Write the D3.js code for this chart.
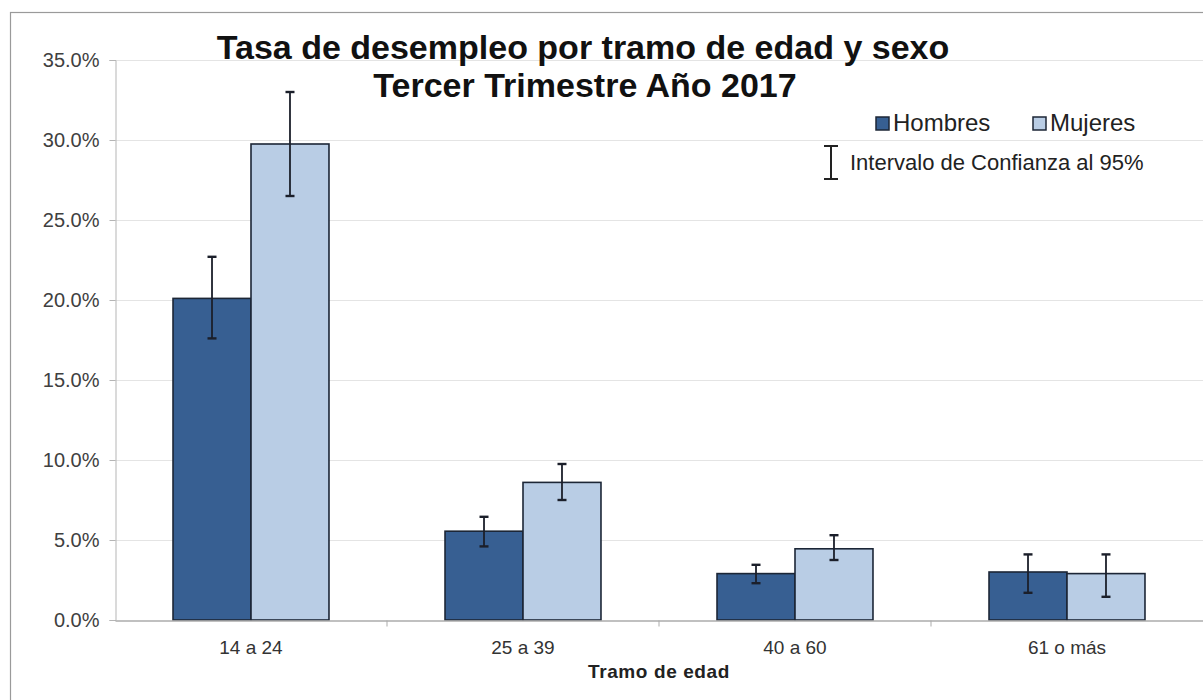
<!DOCTYPE html>
<html lang="es">
<head>
<meta charset="UTF-8">
<title>Tasa de desempleo por tramo de edad y sexo</title>
<style>
  body { margin: 0; background: #fff; }
  text { font-family: "Liberation Sans", Arial, sans-serif; }
</style>
</head>
<body>
<svg width="1203" height="700"></svg>
<script src="https://d3js.org/d3.v7.min.js"></script>
<script>
// data (percent)
var categories = ["14 a 24", "25 a 39", "40 a 60", "61 o más"];
var series = ["Hombres", "Mujeres"];
var hombres = [20.1, 5.55, 2.9, 3.0];
var mujeres = [29.75, 8.6, 4.45, 2.9];
var hombresLow = [17.6, 4.6, 2.3, 1.7];
var hombresHigh = [22.7, 6.45, 3.45, 4.1];
var mujeresLow = [26.5, 7.5, 3.75, 1.45];
var mujeresHigh = [33.0, 9.75, 5.3, 4.1];
var yTicks = [0, 5, 10, 15, 20, 25, 30, 35];

var colors = { "Hombres": "#375f92", "Mujeres": "#b9cde5" };

var rows = [];
categories.forEach(function(c, i) {
  rows.push({ cat: c, s: "Hombres", v: hombres[i], lo: hombresLow[i], hi: hombresHigh[i] });
  rows.push({ cat: c, s: "Mujeres", v: mujeres[i], lo: mujeresLow[i], hi: mujeresHigh[i] });
});

var svg = d3.select("svg");
var plotLeft = 115, plotRight = 1203, plotTop = 60, plotBottom = 620;

// outer frame (runs off the right and bottom edges)
svg.append("rect")
  .attr("x", 10.5).attr("y", 12.5)
  .attr("width", 1300).attr("height", 800)
  .attr("fill", "none").attr("stroke", "#9a9a9a").attr("stroke-width", 1.2);

var y = d3.scaleLinear().domain([0, 35]).range([plotBottom, plotTop]);
var x0 = d3.scaleBand().domain(categories).range([plotLeft, plotRight]);
var x1 = d3.scaleBand().domain(series).range([0, x0.bandwidth()]).paddingOuter(0.744);

// gridlines
svg.append("g").selectAll("line")
  .data(yTicks.filter(function(d) { return d > 0; }))
  .enter().append("line")
  .attr("x1", plotLeft).attr("x2", plotRight)
  .attr("y1", function(d) { return y(d) + 0.5; })
  .attr("y2", function(d) { return y(d) + 0.5; })
  .attr("stroke", "#e4e4e4").attr("stroke-width", 1);

// y axis
var yAxis = svg.append("g")
  .attr("transform", "translate(" + (plotLeft + 0.5) + ",0)")
  .call(d3.axisLeft(y).tickValues(yTicks).tickSize(6).tickPadding(10)
    .tickFormat(function(d) { return d.toFixed(1) + "%"; }));
yAxis.select(".domain").attr("stroke", "#b5b5b5");
yAxis.selectAll(".tick line").attr("stroke", "#b5b5b5");
yAxis.selectAll(".tick text")
  .attr("fill", "#404040").style("font-size", "20px")
  .attr("font-family", "Liberation Sans, Arial, sans-serif");

// bars
svg.append("g").selectAll("rect")
  .data(rows).enter().append("rect")
  .attr("x", function(d) { return x0(d.cat) + x1(d.s); })
  .attr("y", function(d) { return y(d.v); })
  .attr("width", x1.bandwidth())
  .attr("height", function(d) { return y(0) - y(d.v); })
  .attr("fill", function(d) { return colors[d.s]; })
  .attr("stroke", "#1c2636").attr("stroke-width", 1.6);

// x axis
var xAxis = svg.append("g")
  .attr("transform", "translate(0," + (plotBottom + 0.5) + ")")
  .call(d3.axisBottom(x0).tickSize(0).tickPadding(20));
xAxis.select(".domain").attr("stroke", "#ababab").attr("stroke-width", 1.5);
xAxis.selectAll(".tick text")
  .attr("fill", "#333").style("font-size", "19px")
  .attr("font-family", "Liberation Sans, Arial, sans-serif");
// separator ticks between categories
xAxis.append("g").selectAll("line")
  .data(categories.slice(1))
  .enter().append("line")
  .attr("x1", function(d) { return x0(d); })
  .attr("x2", function(d) { return x0(d); })
  .attr("y1", 0).attr("y2", 6)
  .attr("stroke", "#ababab");

// error bars
var cap = 4.5;
var cx = function(d) { return x0(d.cat) + x1(d.s) + x1.bandwidth() / 2; };
var err = svg.append("g").selectAll("g")
  .data(rows).enter().append("g")
  .attr("stroke", "#1b1f2a").attr("stroke-width", 1.8);
err.append("line")
  .attr("x1", cx).attr("x2", cx)
  .attr("y1", function(d) { return y(d.lo); })
  .attr("y2", function(d) { return y(d.hi); });
["lo", "hi"].forEach(function(k) {
  err.append("line")
    .attr("x1", function(d) { return cx(d) - cap; })
    .attr("x2", function(d) { return cx(d) + cap; })
    .attr("y1", function(d) { return y(d[k]); })
    .attr("y2", function(d) { return y(d[k]); })
    .attr("stroke-width", 2.4);
});

// axis title
svg.append("text")
  .attr("x", (plotLeft + plotRight) / 2).attr("y", 678)
  .attr("text-anchor", "middle")
  .style("font-size", "19px").style("font-weight", "bold")
  .style("letter-spacing", "0.6px")
  .attr("fill", "#222")
  .text("Tramo de edad");

// chart title
svg.append("text")
  .attr("x", 583).attr("y", 59)
  .attr("text-anchor", "middle")
  .style("font-size", "34px").style("font-weight", "bold")
  .attr("fill", "#111")
  .text("Tasa de desempleo por tramo de edad y sexo");
svg.append("text")
  .attr("x", 585).attr("y", 97)
  .attr("text-anchor", "middle")
  .style("font-size", "34px").style("font-weight", "bold")
  .attr("fill", "#111")
  .text("Tercer Trimestre Año 2017");

// legend
var legendX = [876, 1033];
var legend = svg.append("g").selectAll("g")
  .data(series).enter().append("g")
  .attr("transform", function(d, i) { return "translate(" + legendX[i] + ",117)"; });
legend.append("rect")
  .attr("width", 13).attr("height", 13)
  .attr("fill", function(d) { return colors[d]; })
  .attr("stroke", "#1c2636").attr("stroke-width", 1.5);
legend.append("text")
  .attr("x", 17).attr("y", 14)
  .style("font-size", "24px").attr("fill", "#222")
  .text(function(d) { return d; });

// confidence interval key
var key = svg.append("g").attr("stroke", "#222").attr("stroke-width", 2);
key.append("line").attr("x1", 831).attr("x2", 831).attr("y1", 146).attr("y2", 179);
key.append("line").attr("x1", 824).attr("x2", 838).attr("y1", 146).attr("y2", 146);
key.append("line").attr("x1", 824).attr("x2", 838).attr("y1", 179).attr("y2", 179);
svg.append("text")
  .attr("x", 850).attr("y", 170)
  .style("font-size", "22px").attr("fill", "#222")
  .text("Intervalo de Confianza al 95%");
</script>
</body>
</html>
